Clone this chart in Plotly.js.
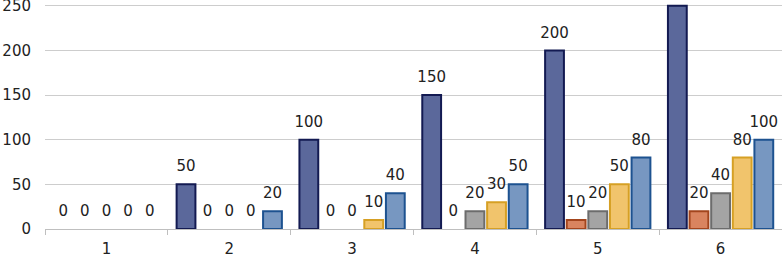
<!DOCTYPE html>
<html>
<head>
<meta charset="utf-8">
<script src="https://cdn.plot.ly/plotly-3.0.1.min.js"></script>
<style>html,body{margin:0;padding:0;background:#fff}#chart{width:782px;height:259px}</style>
</head>
<body>
<div id="chart"></div>
<script>
var categories = ['1', '2', '3', '4', '5', '6'];
var series1 = [0, 50, 100, 150, 200, 250];
var series2 = [0, 0, 0, 0, 10, 20];
var series3 = [0, 0, 0, 20, 20, 40];
var series4 = [0, 0, 10, 30, 50, 80];
var series5 = [0, 20, 40, 50, 80, 100];
var yTicks = [0, 50, 100, 150, 200, 250];
var yMax = 250;

var seriesList = [series1, series2, series3, series4, series5];
var fills = ['#5b689b', '#d9845f', '#a4a4a4', '#f1c46c', '#7797c1'];
var borders = ['#131a52', '#a3451d', '#6c6c6c', '#d6a024', '#1d5290'];

var traces = [];
seriesList.forEach(function (vals, i) {
  traces.push({
    type: 'bar', x: categories, y: vals, name: 'S' + (i + 1),
    marker: {color: fills[i], line: {color: borders[i], width: vals.map(function (v) { return v > 0 ? 2 : 0; })}},
    hoverinfo: 'skip', showlegend: false
  });
});
seriesList.forEach(function (vals, i) {
  traces.push({
    type: 'scatter', mode: 'markers+text', x: categories, y: vals,
    // labels of bars reaching the top of the axis fall outside the chart in the reference
    text: vals.map(function (v) { return v < yMax ? String(v) : ''; }), textposition: 'top center',
    textfont: {family: 'DejaVu Sans', size: 15, color: '#222'},
    marker: {size: 13, color: 'rgba(0,0,0,0)'},
    hoverinfo: 'skip', showlegend: false, cliponaxis: true
  });
});

var layout = {
  width: 782, height: 259,
  margin: {l: 45, r: 0, t: 4, b: 30},
  paper_bgcolor: '#fff', plot_bgcolor: '#fff',
  barmode: 'group', bargap: 0.12, bargroupgap: 0.13,
  scattermode: 'group', scattergap: 0.12,
  showlegend: false,
  font: {family: 'DejaVu Sans', size: 15, color: '#222'},
  xaxis: {
    type: 'category', tickson: 'boundaries', ticks: 'outside', ticklen: 5,
    tickcolor: '#bfbfbf', showline: true, linecolor: '#bfbfbf', linewidth: 1,
    showgrid: false, ticklabelstandoff: 6,
    tickfont: {family: 'DejaVu Sans', size: 15, color: '#222'}
  },
  yaxis: {
    range: [0, 252], tickvals: yTicks, ticktext: yTicks.map(String),
    showgrid: true, gridcolor: '#cdcdcd', gridwidth: 1, zeroline: false,
    showline: false, ticks: '', ticklabelstandoff: 13, ticklabeloverflow: 'allow',
    tickfont: {family: 'DejaVu Sans', size: 15, color: '#222'}
  }
};

Plotly.newPlot('chart', traces, layout, {staticPlot: true, displayModeBar: false});
</script>
</body>
</html>
